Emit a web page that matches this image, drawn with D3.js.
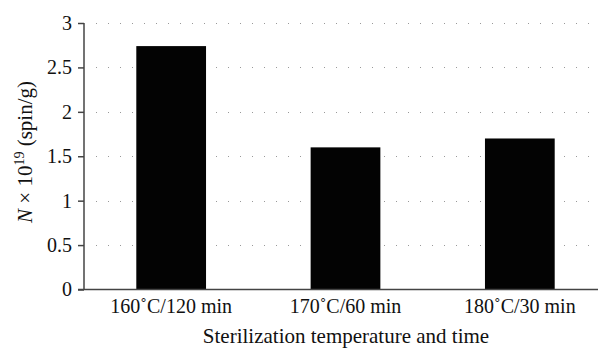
<!DOCTYPE html>
<html>
<head>
<meta charset="utf-8">
<script src="https://cdn.jsdelivr.net/npm/d3@7"></script>
<style>
  body { margin: 0; background: #fff; }
  text { font-family: "Liberation Serif", "DejaVu Serif", serif; fill: #111; }
</style>
</head>
<body>
<div id="chart"></div>
<script>
var categories = ["160˚C/120 min", "170˚C/60 min", "180˚C/30 min"];
var values = [2.74, 1.6, 1.7];
var yTicks = [0, 0.5, 1, 1.5, 2, 2.5, 3];
var yTickLabels = ["0", "0.5", "1", "1.5", "2", "2.5", "3"];

var width = 598, height = 352;
var mLeft = 84, mTop = 23, mBottom = 289.5;
var fontSize = "20px";
var titleSize = "21px";

var svg = d3.select("#chart").append("svg")
    .attr("width", width)
    .attr("height", height);

var x = d3.scaleBand()
    .domain(categories)
    .range([mLeft, mLeft + 523])
    .paddingInner(0.6)
    .paddingOuter(0.3);

var y = d3.scaleLinear()
    .domain([0, 3])
    .range([mBottom, mTop]);

// dotted gridlines
svg.append("g")
    .selectAll("line")
    .data(yTicks.filter(function (d) { return d > 0; }))
    .enter().append("line")
    .attr("x1", mLeft + 12)
    .attr("x2", 592)
    .attr("y1", function (d) { return Math.round(y(d)) + 0.5; })
    .attr("y2", function (d) { return Math.round(y(d)) + 0.5; })
    .attr("stroke", "#999")
    .attr("stroke-width", 1)
    .attr("stroke-dasharray", "1,11");

// bars
svg.append("g")
    .selectAll("rect")
    .data(values)
    .enter().append("rect")
    .attr("x", function (d, i) { return x(categories[i]); })
    .attr("width", x.bandwidth())
    .attr("y", function (d) { return y(d); })
    .attr("height", function (d) { return y(0) - y(d); })
    .attr("fill", "#030303");

// y axis
var yAxis = svg.append("g")
    .attr("transform", "translate(" + mLeft + ",0)")
    .call(d3.axisLeft(y).tickValues(yTicks)
        .tickFormat(function (d, i) { return yTickLabels[i]; })
        .tickSize(6).tickPadding(6));
yAxis.select(".domain").attr("stroke", "#444").attr("stroke-width", 1.5)
    .attr("d", "M0," + mTop + "V" + mBottom);
yAxis.selectAll(".tick line").attr("stroke", "#444").attr("stroke-width", 1.5);
yAxis.selectAll(".tick text").style("font-size", fontSize)
    .style("font-family", "Liberation Serif").attr("fill", "#111");

// x axis
var xAxis = svg.append("g")
    .attr("transform", "translate(0," + mBottom + ")")
    .call(d3.axisBottom(x).tickSize(0).tickPadding(9));
xAxis.select(".domain").attr("stroke", "#444").attr("stroke-width", 1.5)
    .attr("d", "M" + (mLeft - 6) + ",0H" + width);
xAxis.selectAll(".tick text").style("font-size", fontSize)
    .style("font-family", "Liberation Serif").attr("fill", "#111");

// x title
svg.append("text")
    .attr("x", 346)
    .attr("y", 343)
    .attr("text-anchor", "middle")
    .style("font-size", titleSize)
    .text("Sterilization temperature and time");

// y title
var yt = svg.append("text")
    .attr("transform", "translate(32,152) rotate(-90)")
    .attr("text-anchor", "middle")
    .style("font-size", titleSize);
yt.append("tspan").style("font-style", "italic").text("N");
yt.append("tspan").text(" × 10");
yt.append("tspan").attr("dy", -8).style("font-size", "14px").text("19");
yt.append("tspan").attr("dy", 8).text(" (spin/g)");
</script>
</body>
</html>
